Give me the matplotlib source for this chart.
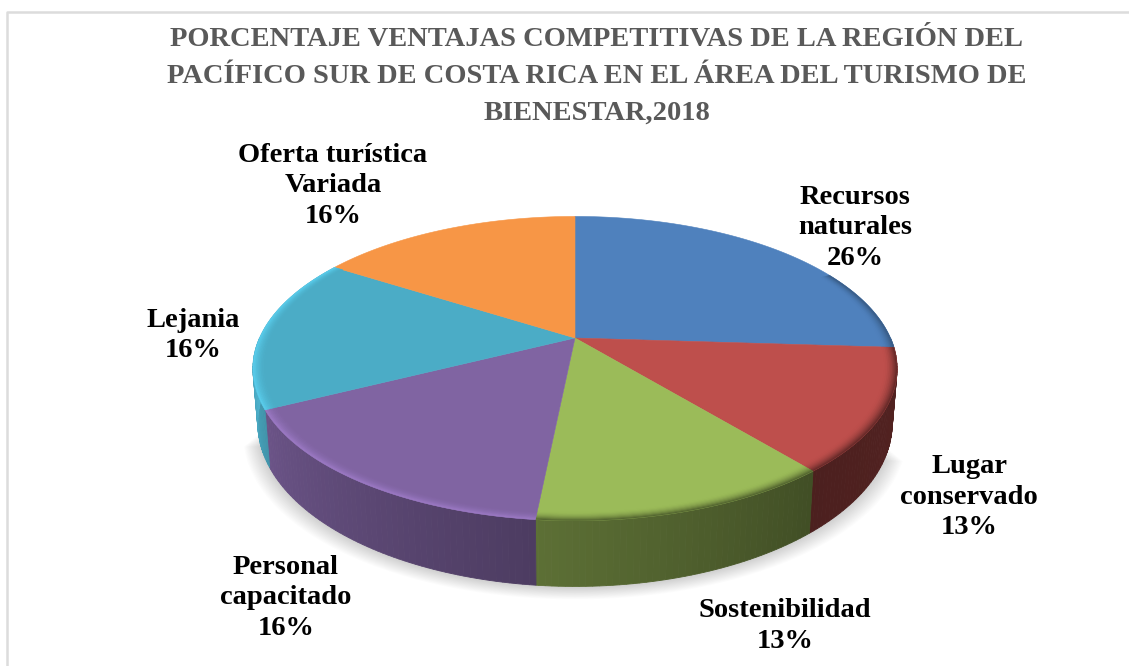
import numpy as np
import matplotlib
matplotlib.use("Agg")
import matplotlib.pyplot as plt

# porcentajes
categories = ["Recursos\nnaturales", "Lugar\nconservado", "Sostenibilidad",
              "Personal\ncapacitado", "Lejania", "Oferta turística\nVariada"]
percent = [26, 13, 12.6, 16, 16.4, 16]
title = ("PORCENTAJE VENTAJAS COMPETITIVAS DE LA REGIÓN DEL\n"
         "PACÍFICO SUR DE COSTA RICA EN EL ÁREA DEL TURISMO DE\n"
         "BIENESTAR,2018")

colors = ["#4F81BD", "#BE4F4C", "#9BBB59", "#8064A2", "#4BACC6", "#F79646"]
labelPos = [(855, 228), (969, 497), (785, 626), (286, 598), (193, 335.5), (333, 186)]
wallShade = [(0.5, 0.5), (0.44, 0.40), (0.42, 0.6), (0.6, 0.84), (0.86, 1.08), (1, 1)]
rimShade = [0.72, 0.55, 0.55, 1.2, 1.18, 1.0]

cx, cy = 575, 338
radius, squash, tilt = 315.5, 146, 0.201
serif = "Liberation Serif"


def topPoint(theta, r=1.0):
    t = np.radians(theta)
    w = 1 + tilt * r * np.cos(t)
    return cx + radius * r * np.sin(t) / w, cy - squash * r * np.cos(t) / w


def bottomPoint(theta):
    x, y = topPoint(theta)
    t = np.radians(theta)
    return cx + (x - cx) * 0.985, y + 52.5 / (1 + tilt * np.cos(t))


def shaded(color, factor):
    rgb = np.array(matplotlib.colors.to_rgb(color)) * factor
    return tuple(np.clip(rgb, 0, 1))


fig = plt.figure(figsize=(11.29, 6.66), dpi=100)
ax = fig.add_axes([0, 0, 1, 1])
ax.set_xlim(0, 1129)
ax.set_ylim(666, 0)
ax.axis("off")

# marco
ax.plot([7, 7, 1129], [666, 12, 12], color="#dcdcdc", lw=1.8)

# angulos de cada sector, en sentido horario desde arriba
edges = np.cumsum([0] + percent) / sum(percent) * 360

# sombra
arc = np.linspace(110, 255, 146)
for i in range(16):
    x, y = bottomPoint(arc)
    scale = 1 + i * 0.003
    ax.fill(cx + (x - cx) * scale, y + 1 + i * 0.8, color="black", alpha=0.013, lw=0)

# pared lateral
for i, color in enumerate(colors):
    start, stop = max(edges[i], 90), min(edges[i + 1], 270)
    if stop <= start:
        continue
    steps = np.arange(start, stop, 1.0)
    for a in steps:
        b = min(a + 1.0, stop)
        f = np.interp(a, [start, stop], wallShade[i])
        xt, yt = topPoint(np.array([a, b]))
        xb, yb = bottomPoint(np.array([b, a]))
        c = shaded(color, f)
        ax.fill(np.r_[xt, xb], np.r_[yt, yb], color=c, lw=0.6)

# cara superior
for i, color in enumerate(colors):
    theta = np.linspace(edges[i], edges[i + 1], 120)
    x, y = topPoint(theta)
    ax.fill(np.r_[cx, x], np.r_[cy, y], color=color, lw=0.4)

# borde biselado de la cara superior
bands = np.linspace(0.962, 1.0, 9)
for i, color in enumerate(colors):
    start, stop = edges[i], edges[i + 1]
    if i == 0:
        start = 62
    if i == 5:
        continue
    theta = np.linspace(start, stop, 80)
    for j in range(len(bands) - 1):
        u = (j + 1) / (len(bands) - 1)
        f = 1 + (rimShade[i] - 1) * u ** 2
        x1, y1 = topPoint(theta, bands[j])
        x2, y2 = topPoint(theta[::-1], bands[j + 1])
        ax.fill(np.r_[x1, x2], np.r_[y1, y2], color=shaded(color, f), lw=0.3)

# etiquetas
for name, value, (x, y) in zip(categories, percent, labelPos):
    label = f"{name}\n{value:.0f}%"
    ax.text(x, y, label, ha="center", va="center", family=serif, weight="bold",
            fontsize=20.5, color="black", linespacing=1.28)

ax.text(597, 76.5, title, ha="center", va="center", family=serif, weight="bold",
        fontsize=20.5, color="#595959", linespacing=1.62)

fig.savefig("out.png", dpi=100)
